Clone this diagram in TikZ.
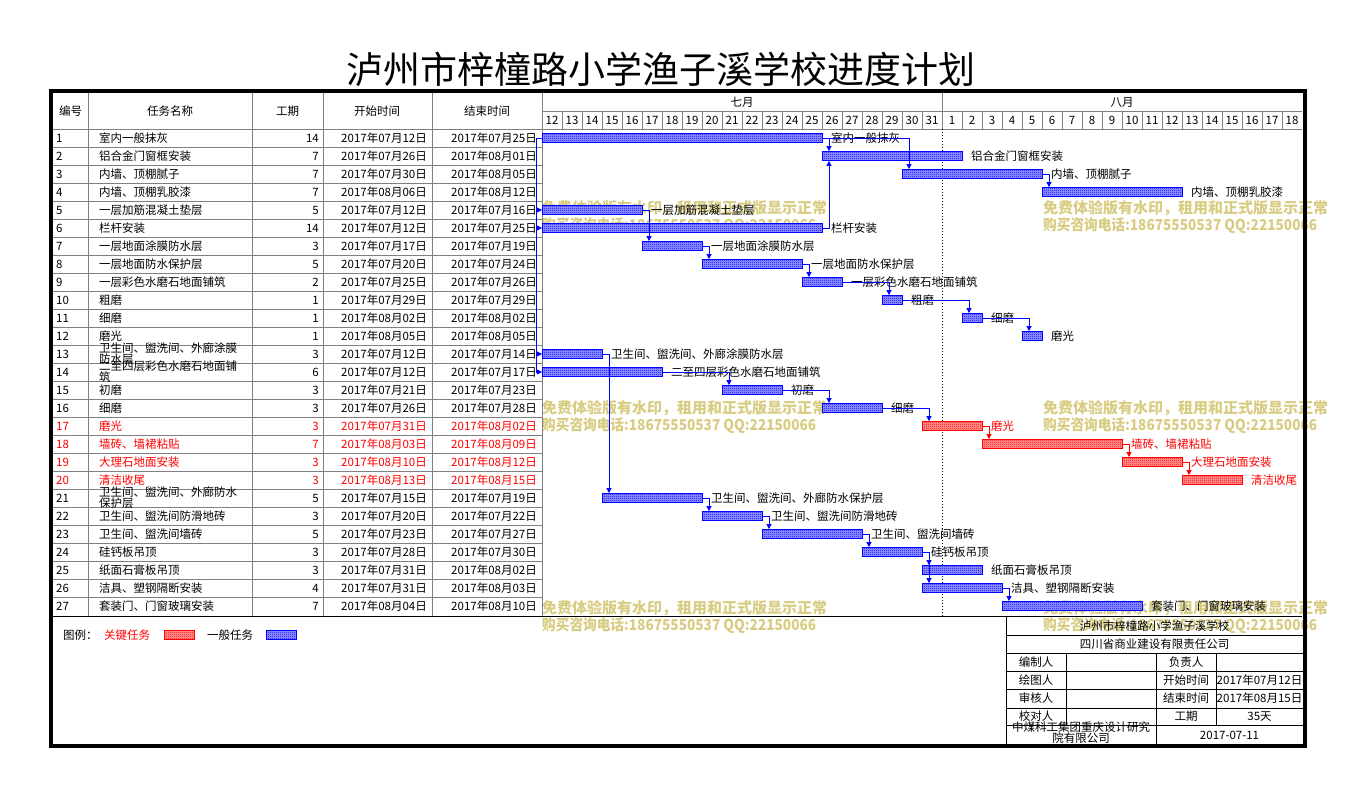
\documentclass[tikz,border=0pt]{standalone}
\usepackage{fontspec}
\setmainfont{Noto Sans CJK SC}
\usetikzlibrary{arrows.meta,patterns}
\definecolor{wmgold}{RGB}{216,204,130}
\definecolor{gridgray}{RGB}{128,128,128}
\pgfdeclarepatternformonly{finecheck}{\pgfpointorigin}{\pgfqpoint{2pt}{2pt}}{\pgfqpoint{2pt}{2pt}}{
	\pgfpathrectangle{\pgfpointorigin}{\pgfqpoint{1pt}{1pt}}
	\pgfpathrectangle{\pgfqpoint{1pt}{1pt}}{\pgfqpoint{1pt}{1pt}}
	\pgfusepath{fill}}
\tikzset{
	cell/.style={anchor=#1,inner sep=0pt},
	bar/.style={draw=#1,line width=0.8pt,preaction={fill=#1!40},pattern=finecheck,pattern color=#1,minimum height=9pt,inner sep=0pt,anchor=west},
	link/.style={draw=#1,line width=0.8pt,-{Triangle[width=5pt,length=5pt]}},
	link/.default=blue,
	wm/.style={text=wmgold,font=\fontsize{15}{15}\selectfont\bfseries,anchor=west,inner sep=0pt},
	grid/.style={draw=gridgray,line width=0.8pt}
}
\begin{document}
\begin{tikzpicture}[x=1pt,y=-1pt,every node/.style={font=\fontsize{11.5}{11}\selectfont}]
	\useasboundingbox (0,0) rectangle (1354,795);
	\node[font=\fontsize{37}{37}\selectfont] (title) at (661,69) {泸州市梓橦路小学渔子溪学校进度计划};

	% watermarks
	\foreach \x/\y in {542/208,1043/208,542/408,1043/408,542/608,1043/608}{
		\node[wm] (wma-\x-\y) at (\x,\y) {免费体验版有水印，租用和正式版显示正常};
		\node[wm] (wmb-\x-\y) at (\x,{\y+18}) {\scalebox{0.91}[1]{购买咨询电话:18675550537 QQ:22150066}};
	}

	% table grid
	\foreach \x in {88,252,323,432,542} \draw[grid] (\x,93) -- (\x,616);
	\foreach \k in {0,...,26} \draw[grid] (53,{129+18*\k}) -- (542,{129+18*\k});
	\draw[grid] (542,111) -- (1302,111);
	\draw[grid] (542,129) -- (1302,129);
	\draw[grid] (942,93) -- (942,111);
	\foreach \k in {1,...,37} \draw[grid] ({542+20*\k},111) -- ({542+20*\k},129);
	\draw[line width=0.8pt,dash pattern=on 1pt off 2pt] (942,129) -- (942,616);
	\draw[line width=0.8pt] (53,616) -- (1302,616);

	% header
	\node (hno) at (70.5,111) {编号};
	\node (hname) at (170,111) {任务名称};
	\node (hdur) at (287.5,111) {工期};
	\node (hstart) at (377,111) {开始时间};
	\node (hend) at (487,111) {结束时间};
	\node (jul) at (742,102) {七月};
	\node (aug) at (1122,102) {八月};
	\foreach \d in {12,...,31} \node (dj\d) at ({552+20*(\d-12)},120) {\d};
	\foreach \d in {1,...,18} \node (da\d) at ({952+20*(\d-1)},120) {\d};

	% rows
	\foreach \i/\nm/\d/\s/\e/\c in {
		1/室内一般抹灰/14/07月12/07月25/black,
		2/铝合金门窗框安装/7/07月26/08月01/black,
		3/内墙、顶棚腻子/7/07月30/08月05/black,
		4/内墙、顶棚乳胶漆/7/08月06/08月12/black,
		5/一层加筋混凝土垫层/5/07月12/07月16/black,
		6/栏杆安装/14/07月12/07月25/black,
		7/一层地面涂膜防水层/3/07月17/07月19/black,
		8/一层地面防水保护层/5/07月20/07月24/black,
		9/一层彩色水磨石地面铺筑/2/07月25/07月26/black,
		10/粗磨/1/07月29/07月29/black,
		11/细磨/1/08月02/08月02/black,
		12/磨光/1/08月05/08月05/black,
		13/{卫生间、盥洗间、外廊涂膜\\防水层}/3/07月12/07月14/black,
		14/{二至四层彩色水磨石地面铺\\筑}/6/07月12/07月17/black,
		15/初磨/3/07月21/07月23/black,
		16/细磨/3/07月26/07月28/black,
		17/磨光/3/07月31/08月02/red,
		18/墙砖、墙裙粘贴/7/08月03/08月09/red,
		19/大理石地面安装/3/08月10/08月12/red,
		20/清洁收尾/3/08月13/08月15/red,
		21/{卫生间、盥洗间、外廊防水\\保护层}/5/07月15/07月19/black,
		22/卫生间、盥洗间防滑地砖/3/07月20/07月22/black,
		23/卫生间、盥洗间墙砖/5/07月23/07月27/black,
		24/硅钙板吊顶/3/07月28/07月30/black,
		25/纸面石膏板吊顶/3/07月31/08月02/black,
		26/洁具、塑钢隔断安装/4/07月31/08月03/black,
		27/套装门、门窗玻璃安装/7/08月04/08月10/black}{
		\node[cell=west,text=\c] (n\i) at (56,{120+18*\i}) {\i};
		\node[cell=west,text=\c,align=left] (t\i) at (99,{120+18*\i}) {\nm};
		\node[cell=east,text=\c] (du\i) at (319,{120+18*\i}) {\d};
		\node[cell=east,text=\c] (s\i) at (427,{120+18*\i}) {2017年\s{}日};
		\node[cell=east,text=\c] (e\i) at (537,{120+18*\i}) {2017年\e{}日};
	}

	% bars
	\foreach \i/\s/\w/\c/\lc/\nm in {
		1/0/14/blue/black/室内一般抹灰, 2/14/7/blue/black/铝合金门窗框安装,
		3/18/7/blue/black/内墙、顶棚腻子, 4/25/7/blue/black/内墙、顶棚乳胶漆,
		5/0/5/blue/black/一层加筋混凝土垫层, 6/0/14/blue/black/栏杆安装,
		7/5/3/blue/black/一层地面涂膜防水层, 8/8/5/blue/black/一层地面防水保护层,
		9/13/2/blue/black/一层彩色水磨石地面铺筑, 10/17/1/blue/black/粗磨,
		11/21/1/blue/black/细磨, 12/24/1/blue/black/磨光,
		13/0/3/blue/black/卫生间、盥洗间、外廊涂膜防水层, 14/0/6/blue/black/二至四层彩色水磨石地面铺筑,
		15/9/3/blue/black/初磨, 16/14/3/blue/black/细磨,
		17/19/3/red/red/磨光, 18/22/7/red/red/墙砖、墙裙粘贴,
		19/29/3/red/red/大理石地面安装, 20/32/3/red/red/清洁收尾,
		21/3/5/blue/black/卫生间、盥洗间、外廊防水保护层, 22/8/3/blue/black/卫生间、盥洗间防滑地砖,
		23/11/5/blue/black/卫生间、盥洗间墙砖, 24/16/3/blue/black/硅钙板吊顶,
		25/19/3/blue/black/纸面石膏板吊顶, 26/19/4/blue/black/洁具、塑钢隔断安装,
		27/23/7/blue/black/套装门、门窗玻璃安装}
		\node[bar=\c,minimum width=\w*20pt,label={[text=\lc,label distance=7pt,inner sep=1pt]east:\nm}] (b\i) at ({542+20*\s},{120+18*\i}) {};

	% links
	\coordinate (st) at (536,138);
	\draw[blue,line width=0.8pt] (st) -- (b1.west);
	\draw[link] (st) |- (b5.west);
	\draw[link] (st) |- (b6.west);
	\draw[link] (st) |- (b13.west);
	\draw[link] (st) |- (b14.west);
	\draw[link] (b1.east) -| ([xshift=7pt]b2.north west);
	\draw[link] (b1.east) -| ([xshift=7pt]b3.north west);
	\draw[link] (b6.east) -| ([xshift=7pt]b2.south west);
	\draw[link] (b3.east) -| ([xshift=7pt]b4.north west);
	\draw[link] (b5.east) -| ([xshift=7pt]b7.north west);
	\draw[link] (b7.east) -| ([xshift=7pt]b8.north west);
	\draw[link] (b8.east) -| ([xshift=7pt]b9.north west);
	\draw[link] (b9.east) -| ([xshift=7pt]b10.north west);
	\draw[link] (b10.east) -| ([xshift=7pt]b11.north west);
	\draw[link] (b11.east) -| ([xshift=7pt]b12.north west);
	\draw[link] (b13.east) -| ([xshift=7pt]b21.north west);
	\draw[link] (b14.east) -| ([xshift=7pt]b15.north west);
	\draw[link] (b15.east) -| ([xshift=7pt]b16.north west);
	\draw[link] (b16.east) -| ([xshift=7pt]b17.north west);
	\draw[link=red] (b17.east) -| ([xshift=7pt]b18.north west);
	\draw[link=red] (b18.east) -| ([xshift=7pt]b19.north west);
	\draw[link=red] (b19.east) -| ([xshift=7pt]b20.north west);
	\draw[link] (b21.east) -| ([xshift=7pt]b22.north west);
	\draw[link] (b22.east) -| ([xshift=7pt]b23.north west);
	\draw[link] (b23.east) -| ([xshift=7pt]b24.north west);
	\draw[link] (b24.east) -| ([xshift=7pt]b25.north west);
	\draw[link] (b24.east) -| ([xshift=7pt]b26.north west);
	\draw[link] (b26.east) -| ([xshift=7pt]b27.north west);

	% legend
	\node[cell=west] (lg) at (63,635) {图例：};
	\node[cell=west,text=red] (lgc) at (104,635) {关键任务};
	\node[bar=red,minimum width=30pt] (lgcb) at (164,635) {};
	\node[cell=west] (lgn) at (207,635) {一般任务};
	\node[bar=blue,minimum width=30pt] (lgnb) at (266,635) {};

	% title block
	\draw[line width=0.8pt] (1006,616) -- (1006,746);
	\foreach \y in {635,653,671,689,708,725} \draw[line width=0.8pt] (1006,\y) -- (1303,\y);
	\draw[line width=0.8pt] (1066,653) -- (1066,725);
	\draw[line width=0.8pt] (1156,653) -- (1156,746);
	\draw[line width=0.8pt] (1216,653) -- (1216,725);
	\node (tbp) at (1154.5,626) {泸州市梓橦路小学渔子溪学校};
	\node (tbc) at (1154.5,644) {四川省商业建设有限责任公司};
	\node (tbz) at (1036,662) {编制人};
	\node (tbf) at (1186,662) {负责人};
	\node (tbh) at (1036,680) {绘图人};
	\node (tbs) at (1186,680) {开始时间};
	\node (tbsv) at (1259.5,680) {2017年07月12日};
	\node (tbr) at (1036,698.5) {审核人};
	\node (tbe) at (1186,698.5) {结束时间};
	\node (tbev) at (1259.5,698.5) {2017年08月15日};
	\node (tbj) at (1036,716.5) {校对人};
	\node (tbd) at (1186,716.5) {工期};
	\node (tbdv) at (1259.5,716.5) {35天};
	\node[align=center] (tbo) at (1081,733) {中煤科工集团重庆设计研究\\院有限公司};
	\node (tbdate) at (1229.5,735.5) {2017-07-11};

	% frame
	\draw[line width=4pt] (50.5,91) rectangle (1305,746);
\end{tikzpicture}
\end{document}
